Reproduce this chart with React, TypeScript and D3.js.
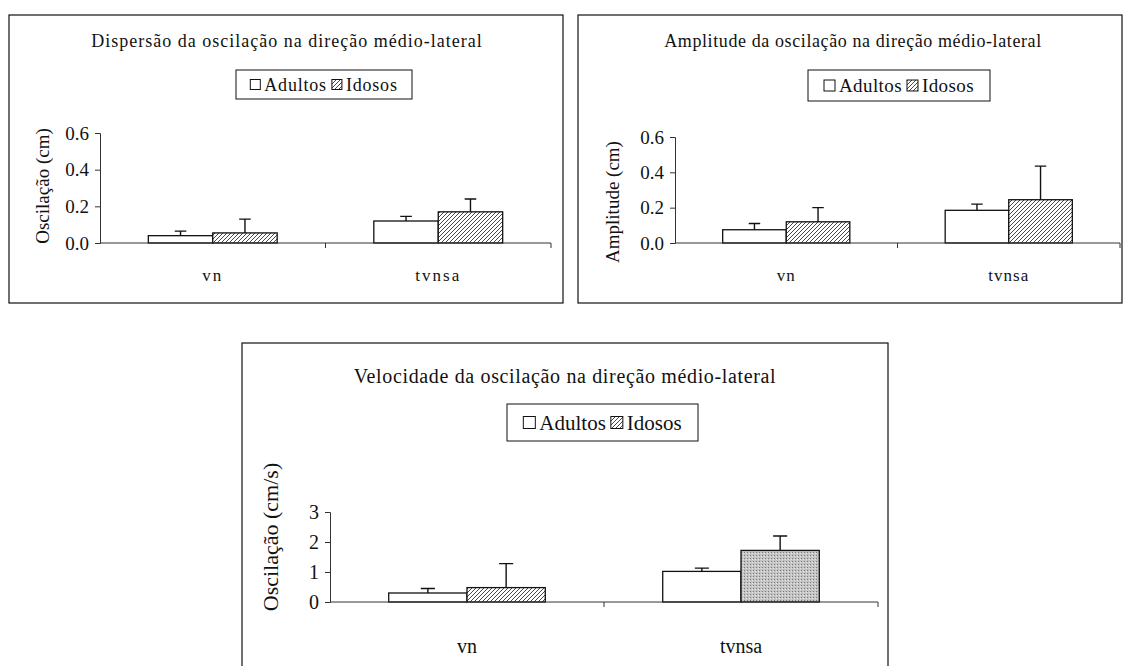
import * as d3 from "d3";
import { useRef, useEffect } from "react";

// dados
const categories = ["vn", "tvnsa"];
const seriesNames = ["Adultos", "Idosos"];

const dispersaoAdultos = [0.04, 0.12];
const dispersaoAdultosDp = [0.025, 0.025];
const dispersaoIdosos = [0.055, 0.17];
const dispersaoIdososDp = [0.075, 0.07];
const dispersaoTicks = [0, 0.2, 0.4, 0.6];

const amplitudeAdultos = [0.075, 0.185];
const amplitudeAdultosDp = [0.035, 0.035];
const amplitudeIdosos = [0.12, 0.245];
const amplitudeIdososDp = [0.08, 0.19];
const amplitudeTicks = [0, 0.2, 0.4, 0.6];

const velocidadeAdultos = [0.3, 1.02];
const velocidadeAdultosDp = [0.15, 0.11];
const velocidadeIdosos = [0.48, 1.72];
const velocidadeIdososDp = [0.8, 0.48];
const velocidadeTicks = [0, 1, 2, 3];

const panels = [
  {
    title: "Dispersão da oscilação na direção médio-lateral",
    yLabel: "Oscilação (cm)",
    means: [dispersaoAdultos, dispersaoIdosos],
    sds: [dispersaoAdultosDp, dispersaoIdososDp],
    ticks: dispersaoTicks,
    fmt: d3.format(".1f"),
    frame: { x: 9, y: 15, w: 554, h: 288 },
    plot: { left: 100, right: 551, top: 133, bottom: 243 },
    titleX: 287, titleY: 47, titleSize: 18, titleLs: 1,
    legend: { x: 236, y: 70, w: 176, h: 29, size: 18, ls: 0.8, sw: 10 },
    yLabelX: 42, yLabelY: 186, labelSize: 19, tickSize: 19, catSize: 17, catLs: 2, catDy: 38,
    fills: ["white", "url(#hatch)"],
  },
  {
    title: "Amplitude da oscilação na direção médio-lateral",
    yLabel: "Amplitude (cm)",
    means: [amplitudeAdultos, amplitudeIdosos],
    sds: [amplitudeAdultosDp, amplitudeIdososDp],
    ticks: amplitudeTicks,
    fmt: d3.format(".1f"),
    frame: { x: 578, y: 15, w: 544, h: 288 },
    plot: { left: 675, right: 1120, top: 137, bottom: 243 },
    titleX: 853, titleY: 47, titleSize: 18, titleLs: 0.6,
    legend: { x: 808, y: 70, w: 182, h: 31, size: 19, ls: 0.4, sw: 11 },
    yLabelX: 612, yLabelY: 202, labelSize: 19, tickSize: 19, catSize: 17, catLs: 1, catDy: 38,
    fills: ["white", "url(#hatch)"],
  },
  {
    title: "Velocidade da oscilação na direção médio-lateral",
    yLabel: "Oscilação (cm/s)",
    means: [velocidadeAdultos, velocidadeIdosos],
    sds: [velocidadeAdultosDp, velocidadeIdososDp],
    ticks: velocidadeTicks,
    fmt: d3.format("d"),
    frame: { x: 242, y: 343, w: 646, h: 340 },
    plot: { left: 330, right: 878, top: 512, bottom: 602 },
    titleX: 565, titleY: 383, titleSize: 20, titleLs: 0.65,
    legend: { x: 507, y: 404, w: 191, h: 37, size: 21, ls: 0, sw: 12 },
    yLabelX: 270, yLabelY: 537, labelSize: 22, tickSize: 20, catSize: 20, catLs: 0, catDy: 51,
    fills: ["white", "url(#hatch)"],
    special: "url(#stipple)",
  },
];

const App = () => {
  const ref = useRef(null);

  useEffect(() => {
    const svg = d3.select(ref.current);
    svg.selectAll("*").remove();

    const defs = svg.append("defs");
    const hatch = defs.append("pattern")
      .attr("id", "hatch")
      .attr("patternUnits", "userSpaceOnUse")
      .attr("width", 4).attr("height", 4);
    hatch.append("rect").attr("width", 4).attr("height", 4).attr("fill", "white");
    hatch.append("path")
      .attr("d", "M-1,1 L1,-1 M0,4 L4,0 M3,5 L5,3")
      .attr("stroke", "#333").attr("stroke-width", 0.9);

    const stipple = defs.append("pattern")
      .attr("id", "stipple")
      .attr("patternUnits", "userSpaceOnUse")
      .attr("width", 3).attr("height", 3);
    stipple.append("rect").attr("width", 3).attr("height", 3).attr("fill", "#c4c4c4");
    stipple.append("rect").attr("x", 0).attr("y", 0).attr("width", 1).attr("height", 1).attr("fill", "#7a7a7a");
    stipple.append("rect").attr("x", 2).attr("y", 1).attr("width", 1).attr("height", 1).attr("fill", "#e6e6e6");

    const font = "'Liberation Serif', 'Times New Roman', serif";

    panels.forEach((p) => {
      const g = svg.append("g");

      g.append("rect")
        .attr("x", p.frame.x).attr("y", p.frame.y)
        .attr("width", p.frame.w).attr("height", p.frame.h)
        .attr("fill", "white").attr("stroke", "#111").attr("stroke-width", 1.2);

      g.append("text")
        .attr("x", p.titleX).attr("y", p.titleY)
        .attr("text-anchor", "middle")
        .attr("font-family", font).attr("font-size", p.titleSize)
        .attr("letter-spacing", p.titleLs)
        .attr("fill", "#111")
        .text(p.title);

      // legenda
      const lg = p.legend;
      g.append("rect")
        .attr("x", lg.x).attr("y", lg.y).attr("width", lg.w).attr("height", lg.h)
        .attr("fill", "white").attr("stroke", "#111").attr("stroke-width", 1);
      const items = g.append("g");
      const parts: { w: number }[] = [];
      seriesNames.forEach((name, i) => {
        const sq = items.append("rect")
          .attr("y", lg.y + lg.h / 2 - lg.sw / 2)
          .attr("width", lg.sw).attr("height", lg.sw)
          .attr("fill", p.fills[i]).attr("stroke", "#111").attr("stroke-width", 1);
        const t = items.append("text")
          .attr("y", lg.y + lg.h / 2)
          .attr("dy", "0.35em")
          .attr("font-family", font).attr("font-size", lg.size)
          .attr("letter-spacing", lg.ls)
          .attr("fill", "#111")
          .text(name);
        parts.push({ w: (t.node() as SVGTextElement).getComputedTextLength() });
        (sq.node() as any).__t = t;
      });
      // centra os itens dentro da caixa
      const gap = 4, between = 5;
      const total = parts.reduce((s, q) => s + lg.sw + gap + q.w, 0) + between;
      let cx = lg.x + (lg.w - total) / 2;
      items.selectAll("rect").each(function (_, i) {
        const sq = d3.select(this);
        sq.attr("x", cx);
        (this as any).__t.attr("x", cx + lg.sw + gap);
        cx += lg.sw + gap + parts[i].w + between;
      });

      const x0 = d3.scaleBand()
        .domain(categories)
        .range([p.plot.left, p.plot.right]);
      // largura do intervalo de 150% (estilo Excel)
      const barW = x0.bandwidth() / (2 + 1.5);
      const x1 = d3.scaleBand()
        .domain(seriesNames)
        .range([0, barW * 2]);

      const y = d3.scaleLinear()
        .domain([p.ticks[0], p.ticks[p.ticks.length - 1]])
        .range([p.plot.bottom, p.plot.top]);

      // barras
      seriesNames.forEach((name, si) => {
        categories.forEach((cat, ci) => {
          const bx = (x0(cat) as number) + x0.bandwidth() / 2 - barW + (x1(name) as number);
          const v = p.means[si][ci];
          let fill = p.fills[si];
          if (p.special && si === 1 && ci === 1) fill = p.special;
          g.append("rect")
            .attr("x", bx).attr("y", y(v))
            .attr("width", barW).attr("height", y(0) - y(v))
            .attr("fill", fill).attr("stroke", "#111").attr("stroke-width", 1.3);
          const top = y(v + p.sds[si][ci]);
          const mx = bx + barW / 2;
          const cap = barW * 0.18;
          g.append("path")
            .attr("d", `M${mx},${y(v)} L${mx},${top} M${mx - cap / 2},${top} L${mx + cap / 2},${top}`)
            .attr("stroke", "#111").attr("stroke-width", 1.4).attr("fill", "none");
        });
      });

      // eixo y
      const yAxis = d3.axisLeft(y)
        .tickValues(p.ticks)
        .tickFormat(p.fmt as any)
        .tickSize(5)
        .tickPadding(6);
      const ya = g.append("g")
        .attr("transform", `translate(${p.plot.left},0)`)
        .call(yAxis);
      ya.select(".domain").attr("stroke", "#333").attr("stroke-width", 1);
      ya.selectAll(".tick line").attr("stroke", "#333");
      ya.selectAll("text")
        .attr("font-family", font).attr("font-size", p.tickSize).attr("fill", "#111");

      // eixo x
      const xa = g.append("g");
      xa.append("line")
        .attr("x1", p.plot.left).attr("x2", p.plot.right)
        .attr("y1", y(0)).attr("y2", y(0))
        .attr("stroke", "#333").attr("stroke-width", 1);
      categories.forEach((cat) => {
        const edge = (x0(cat) as number) + x0.bandwidth();
        xa.append("line")
          .attr("x1", edge).attr("x2", edge)
          .attr("y1", y(0)).attr("y2", y(0) + 5)
          .attr("stroke", "#333");
        xa.append("text")
          .attr("x", (x0(cat) as number) + x0.bandwidth() / 2)
          .attr("y", y(0) + p.catDy)
          .attr("text-anchor", "middle")
          .attr("font-family", font).attr("font-size", p.catSize)
          .attr("letter-spacing", p.catLs)
          .attr("fill", "#111")
          .text(cat);
      });

      g.append("text")
        .attr("transform", `translate(${p.yLabelX},${p.yLabelY}) rotate(-90)`)
        .attr("text-anchor", "middle")
        .attr("dy", "0.35em")
        .attr("font-family", font).attr("font-size", p.labelSize)
        .attr("fill", "#111")
        .text(p.yLabel);
    });
  }, []);

  return (
    <svg ref={ref} width={1130} height={666}
      style={{ position: "absolute", left: 0, top: 0, background: "white" }} />
  );
};

export default App;
